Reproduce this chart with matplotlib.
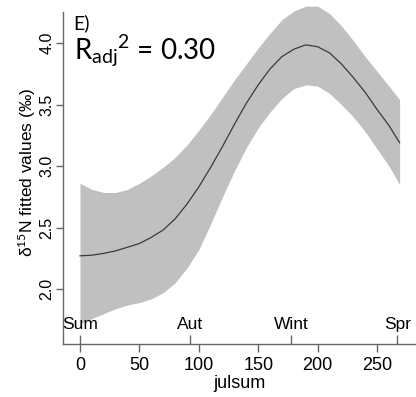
import matplotlib
matplotlib.use('agg')
import numpy as np
import matplotlib.pyplot as plt

plt.rcParams['font.family'] = ['Liberation Sans', 'DejaVu Sans']
plt.rcParams['mathtext.fontset'] = 'custom'
plt.rcParams['mathtext.rm'] = 'Lato'
plt.rcParams['mathtext.it'] = 'Lato'

# julsum grid and fitted curve with confidence band
julsum = [0, 10, 20, 30, 40, 50, 60, 70, 80, 90, 100, 110, 120, 130, 140,
          150, 160, 170, 180, 190, 200, 210, 220, 230, 240, 250, 260, 269]
fitted = [2.27, 2.275, 2.29, 2.31, 2.34, 2.37, 2.42, 2.48, 2.57, 2.69, 2.83, 2.99, 3.16, 3.34, 3.51,
          3.66, 3.79, 3.89, 3.95, 3.985, 3.97, 3.92, 3.83, 3.72, 3.60, 3.46, 3.33, 3.19]
upper = [2.86, 2.81, 2.785, 2.785, 2.81, 2.86, 2.92, 2.99, 3.07, 3.17, 3.29, 3.42, 3.56, 3.70, 3.83,
         3.96, 4.08, 4.19, 4.26, 4.30, 4.30, 4.24, 4.14, 4.02, 3.89, 3.77, 3.65, 3.54]
lower = [1.72, 1.76, 1.80, 1.84, 1.87, 1.89, 1.92, 1.97, 2.05, 2.17, 2.32, 2.53, 2.75, 2.96, 3.15,
         3.31, 3.44, 3.55, 3.63, 3.66, 3.65, 3.59, 3.50, 3.40, 3.28, 3.14, 3.00, 2.85]

# seasons marked on the x axis
season_names = ['Sum', 'Aut', 'Wint', 'Spr']
season_pos = [0, 93, 178, 267]

x_ticks = [0, 50, 100, 150, 200, 250]
y_ticks = [2.0, 2.5, 3.0, 3.5, 4.0]

fig = plt.figure(figsize=(4.16, 3.97), dpi=100)
ax = fig.add_axes([63 / 416, 53 / 397, 353 / 416, 344 / 397])

ax.fill_between(julsum, lower, upper, color='#c0c0c0', linewidth=0)
ax.plot(julsum, fitted, color='#3a3a3a', linewidth=0.9)

ax.set_xlim(-14.3, 282.8)
ax.set_ylim(1.553, 4.35)

ax.spines['top'].set_visible(False)
ax.spines['right'].set_visible(False)
for s in ['left', 'bottom']:
    ax.spines[s].set_color('#666666')
    ax.spines[s].set_linewidth(1.0)
ax.spines['left'].set_bounds(1.553, 4.25)

ax.set_xticks(x_ticks)
ax.set_xticklabels([str(v) for v in x_ticks], fontsize=13)
ax.set_yticks(y_ticks)
ax.set_yticklabels(['%.1f' % v for v in y_ticks], fontsize=11.5, rotation=90, va='center')
ax.tick_params(axis='x', length=6, width=1, color='#666666', pad=3)
ax.tick_params(axis='y', length=5, width=1, color='#666666', pad=1)

ax.set_xlabel('julsum', fontsize=13, labelpad=1)
ax.set_ylabel('δ$^{15}$N fitted values (‰)', fontsize=12.5, labelpad=1)

# season ticks pointing up from the x axis, labels above them
trans = ax.get_xaxis_transform()
ax.vlines(season_pos, 0, 0.027, transform=trans, color='#666666', linewidth=1)
for name, pos in zip(season_names, season_pos):
    ax.text(pos, 0.035, name, transform=trans, ha='center', va='bottom', fontsize=12.5)

ax.text(0.03, 0.96, 'E)', transform=ax.transAxes, fontsize=14, family='Lato', va='top')
ax.text(0.03, 0.826, r'$\mathrm{{R_{adj}}^{2}}$ = 0.30', transform=ax.transAxes,
        fontsize=20, family='Lato', va='baseline')

fig.savefig('out.png', dpi=100)
